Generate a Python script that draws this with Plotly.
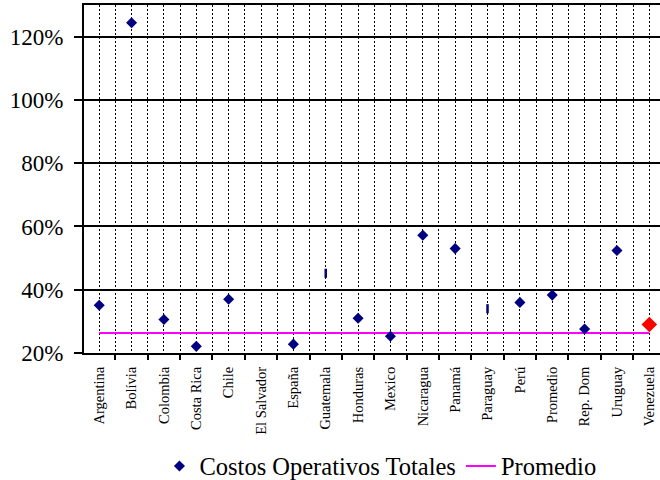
import plotly.graph_objects as go

categories = ["Argentina", "Bolívia", "Colombia", "Costa Rica", "Chile", "El Salvador",
              "España", "Guatemala", "Honduras", "Mexico", "Nicaragua", "Panamá",
              "Paraguay", "Perú", "Promedio", "Rep. Dom", "Uruguay", "Venezuela"]
costos = [35.1, 124.4, 30.6, 22.1, 37.0, None, 22.8, 45.2, 31.0, 25.3,
          57.2, 53.0, 34.0, 36.0, 38.3, 27.6, 52.4, 29.0]
promedio = [26.3, 26.3, 26.3, 26.3, 26.3, 26.3, 26.3, 26.3, 26.3,
            26.3, 26.3, 26.3, 26.3, 26.3, 26.3, 26.3, 26.3, 26.3]
y_ticks = [20, 40, 60, 80, 100, 120]

bar_marks = ["Guatemala", "Paraguay"]
highlight = ["Venezuela"]

FONT = "Liberation Serif"
NAVY = "#000080"

idx = list(range(len(categories)))

main_x = [i for i, c in zip(idx, categories) if c not in bar_marks + highlight]
main_y = [costos[i] for i in main_x]
bar_x = [i for i, c in zip(idx, categories) if c in bar_marks]
bar_y = [costos[i] for i in bar_x]
hi_x = [i for i, c in zip(idx, categories) if c in highlight]
hi_y = [costos[i] for i in hi_x]

fig = go.Figure()
fig.add_trace(go.Scatter(
    x=idx, y=promedio, mode="lines", name="Promedio",
    line=dict(color="#FF00FF", width=2), showlegend=False))
fig.add_trace(go.Scatter(
    x=main_x, y=main_y, mode="markers", name="Costos Operativos Totales",
    marker=dict(symbol="diamond", size=8.5, color=NAVY, line=dict(width=0))))
fig.add_trace(go.Scatter(
    x=bar_x, y=bar_y, mode="markers", showlegend=False,
    marker=dict(symbol="line-ns", size=6.5, color=NAVY, line=dict(width=2.5, color=NAVY))))
fig.add_trace(go.Scatter(
    x=hi_x, y=hi_y, mode="markers", showlegend=False,
    marker=dict(symbol="diamond", size=12, color="#FF0000", line=dict(width=0))))
# legend entry for Promedio
fig.add_trace(go.Scatter(
    x=[None], y=[None], mode="lines", name="Promedio",
    line=dict(color="#FF00FF", width=2)))

boundaries = [i - 0.5 for i in idx] + [len(idx) - 0.5]

fig.update_layout(
    width=660, height=480,
    margin=dict(l=84, r=0, t=5, b=127.3, autoexpand=False),
    plot_bgcolor="white", paper_bgcolor="white",
    font=dict(family=FONT, color="black"),
    xaxis=dict(
        range=[-0.47, 17.33],
        tickmode="array", tickvals=idx, ticktext=categories,
        tickangle=-90, tickfont=dict(size=14.5, family=FONT),
        ticks="", showgrid=True, gridcolor="black", gridwidth=1, griddash="2px,2px",
        showline=True, linecolor="black", linewidth=2, mirror=True,
        zeroline=False, automargin=False, ticklabelstandoff=6,
        minor=dict(tickmode="array", tickvals=boundaries, ticks="outside", ticklen=5,
                   tickwidth=2, tickcolor="black", showgrid=True, gridcolor="black",
                   gridwidth=1, griddash="2px,2px"),
    ),
    yaxis=dict(
        range=[20, 130], tickmode="array", tickvals=y_ticks,
        ticktext=[f"{v}%" for v in y_ticks],
        tickfont=dict(size=23, family=FONT),
        ticks="outside", ticklen=8, tickwidth=2, tickcolor="black",
        showgrid=True, gridcolor="black", gridwidth=2,
        showline=True, linecolor="black", linewidth=2, mirror=False,
        zeroline=False, automargin=False, ticklabelstandoff=6,
    ),
    legend=dict(orientation="h", x=0.131, xanchor="left", y=-0.26, yanchor="top",
                font=dict(size=24.5, family=FONT), bgcolor="rgba(0,0,0,0)",
                itemsizing="trace", traceorder="normal"),
)

fig.write_html("out.html")
